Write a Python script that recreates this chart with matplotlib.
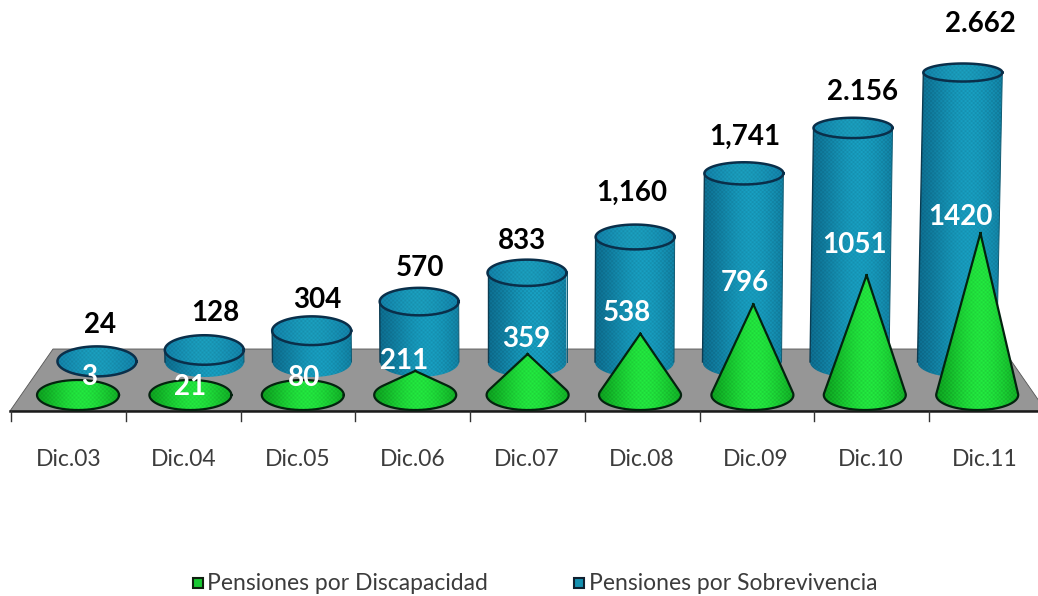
import numpy as np
from matplotlib import pyplot as plt
from matplotlib.patches import Polygon, Rectangle

# data
fechas = ["Dic.03", "Dic.04", "Dic.05", "Dic.06", "Dic.07", "Dic.08", "Dic.09", "Dic.10", "Dic.11"]
discapacidad = [3, 21, 80, 211, 359, 538, 796, 1051, 1420]
sobrevivencia = [24, 128, 304, 570, 833, 1160, 1741, 2156, 2662]
etiquetas_sob = ["24", "128", "304", "570", "833", "1,160", "1,741", "2.156", "2.662"]
etiquetas_dis = ["3", "21", "80", "211", "359", "538", "796", "1051", "1420"]
serie_dis = "Pensiones por Discapacidad"
serie_sob = "Pensiones por Sobrevivencia"

# layout, everything in image pixels
ANCHO, ALTO = 1038, 596
FUENTE = "Lato"
esc_cono = 0.114
esc_cil = 0.1095
base_cono = 395
base_cil = 364
pos_sob = [(100, 325), (215, 313), (317, 300), (420, 268), (522, 241), (632, 193), (745, 137), (863, 92), (980, 24)]
pos_dis = [(89, 377), (190, 387), (304, 378), (404, 361), (526, 339), (627, 313), (745, 283), (855, 245), (960, 217)]

fig = plt.figure(figsize=(ANCHO / 100, ALTO / 100), dpi=100)
ax = fig.add_axes([0, 0, 1, 1])


def textura(x0, x1, y0, y1, claro, oscuro, pico=0.6, paso=2):
    w = max(int(x1 - x0), 2)
    h = max(int(y1 - y0), 2)
    u = np.linspace(0, 1, w)
    g = np.exp(-((u - pico) / 0.5) ** 2)
    g = (g - g.min()) / (g.max() - g.min())
    img = np.zeros((h, w, 3))
    yy, xx = np.mgrid[0:h, 0:w]
    tablero = 1 + 0.05 * (((xx // paso + yy // paso) % 2) * 2 - 1)
    for c in range(3):
        img[:, :, c] = (oscuro[c] + (claro[c] - oscuro[c]) * g) * tablero
    return np.clip(img, 0, 1)


def pintar(verts, claro, oscuro, z, pico=0.6):
    verts = np.array(verts)
    x0, x1 = verts[:, 0].min(), verts[:, 0].max()
    y0, y1 = verts[:, 1].min(), verts[:, 1].max()
    im = ax.imshow(textura(x0, x1, y0, y1, claro, oscuro, pico), extent=(x0, x1, y1, y0),
                   aspect="auto", zorder=z, interpolation="bilinear")
    clip = Polygon(verts, closed=True, transform=ax.transData, facecolor="none", edgecolor="none")
    im.set_clip_path(clip)


def elipse(cx, cy, a, b, t0=0, t1=2 * np.pi, n=90):
    t = np.linspace(t0, t1, n)
    return np.column_stack([cx + a * np.cos(t), cy + b * np.sin(t)])


def cilindro(i, valor):
    xb = 97 + 107.5 * i
    h = valor * esc_cil
    yt = base_cil - h
    xt = xb + (i - 4) * 0.005 * h
    bt = 9 + 6 * (yt - 72) / 290
    a = 39.5
    fondo = elipse(xb, base_cil - 2, a, 15, 0, np.pi)
    cuerpo = np.vstack([[[xt + a, yt]], fondo, [[xt - a, yt]]])
    if h > 3:
        pintar(cuerpo, (0.09, 0.60, 0.73), (0.05, 0.42, 0.55), 3)
        ax.plot([xt - a, xb - a], [yt, base_cil - 2], color="#0b3c52", lw=1, zorder=3.1)
        ax.plot([xt + a, xb + a], [yt, base_cil - 2], color="#0f5a72", lw=0.7, zorder=3.1)
    tapa = elipse(xt, yt, a, bt)
    pintar(tapa, (0.10, 0.60, 0.72), (0.07, 0.50, 0.65), 3.2, 0.5)
    ax.plot(tapa[:, 0], tapa[:, 1], color="#0a2f4a", lw=1.8, zorder=3.3)


def cono(i, valor):
    xb = 78 + 112.4 * i
    h = valor * esc_cono
    a, b = 41, 15
    xa = xb + max(i - 4, 0) * 0.005 * h
    ya = base_cono - h
    if h <= b:
        borde = elipse(xb, base_cono, a, b)
    else:
        yt = b * b / h
        xt = a * np.sqrt(1 - (b / h) ** 2)
        t0 = np.arctan2(-yt / b, xt / a)
        arco = elipse(xb, base_cono, a, b, t0, np.pi - t0)
        borde = np.vstack([[[xa, ya]], arco, [[xa, ya]]])
    pintar(borde, (0.13, 0.88, 0.24), (0.05, 0.62, 0.12), 5, 0.55)
    ax.plot(borde[:, 0], borde[:, 1], color="#04230f", lw=1.6, zorder=5.1)


# piso gris
ax.add_patch(Polygon([(10, 411), (53, 349), (1003, 349), (1046, 411)], closed=True,
                     facecolor="#969696", edgecolor="#555555", lw=0.6, zorder=1))
ax.plot([10, ANCHO], [411, 411], color="#1a1a1a", lw=1.8, zorder=2)
for i in range(len(fechas) + 1):
    ax.plot([11 + 114.75 * i] * 2, [411, 421], color="#333333", lw=1, zorder=2)

for i, v in enumerate(sobrevivencia):
    cilindro(i, v)
for i, v in enumerate(discapacidad):
    cono(i, v)

for i, f in enumerate(fechas):
    ax.text(69 + 114.5 * i, 459, f, ha="center", va="center", fontsize=16.5, color="#3c3c3c",
            family=FUENTE, zorder=8)
for t, p in zip(etiquetas_sob, pos_sob):
    ax.text(p[0], p[1], t, ha="center", va="center", fontsize=20, fontweight="bold",
            color="black", family=FUENTE, zorder=8)
for t, p in zip(etiquetas_dis, pos_dis):
    ax.text(p[0], p[1], t, ha="center", va="center", fontsize=20, fontweight="bold",
            color="white", family=FUENTE, zorder=8)

# leyenda
ax.add_patch(Rectangle((193, 578), 10, 10, facecolor="#18c832", edgecolor="#102010", lw=1.5, zorder=8))
ax.text(207, 583, serie_dis, ha="left", va="center", fontsize=16.5, color="#3c3c3c",
        family=FUENTE, zorder=8)
ax.add_patch(Rectangle((574, 578), 10, 10, facecolor="#1590b0", edgecolor="#102030", lw=1.5, zorder=8))
ax.text(589, 583, serie_sob, ha="left", va="center", fontsize=16.5, color="#3c3c3c",
        family=FUENTE, zorder=8)

ax.set_xlim(0, ANCHO)
ax.set_ylim(ALTO, 0)
ax.axis("off")
fig.savefig("out.png", dpi=100, facecolor="white")
